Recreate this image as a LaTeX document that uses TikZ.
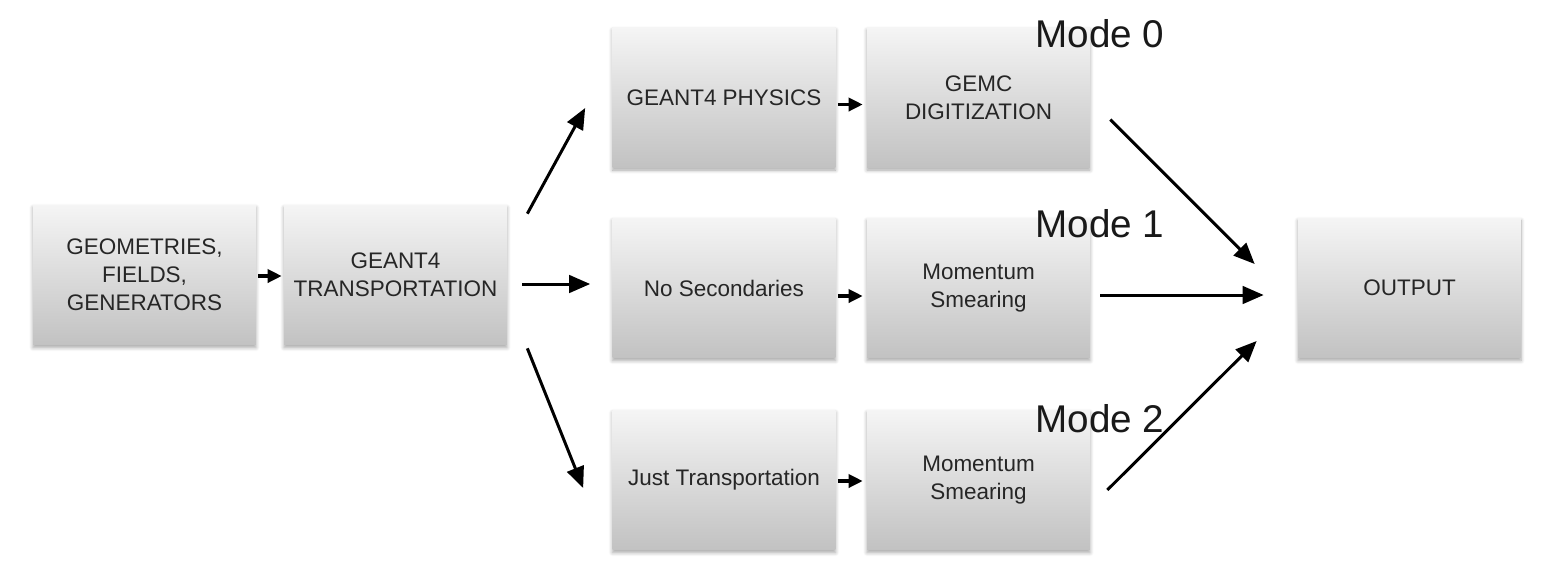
\documentclass[tikz,border=0pt]{standalone}
\usepackage{fontspec}
\setmainfont{Liberation Sans}
\usepackage{tikz}
\usetikzlibrary{calc,arrows.meta,shadows.blur}

\tikzset{
    stage/.style={rectangle, inner sep=0pt, minimum width=4.46cm, minimum height=2.8cm,
        align=center, top color=black!4, bottom color=black!24, draw=none,
        blur shadow={shadow xshift=0pt, shadow yshift=-1.5pt, shadow blur steps=6, shadow opacity=35},
        text=black!85, font=\fontsize{12.8}{16}\selectfont},
    mode/.style={inner sep=0pt, text=black!90, font=\fontsize{22}{26}\selectfont},
    flow/.style={line width=1.7pt, -{Triangle[length=12pt,width=10pt]}},
    hop/.style={line width=1.8pt, -{Triangle[length=8pt,width=7.5pt]}}
}

\begin{document}
\begin{tikzpicture}[x=0.02cm, y=-0.02cm]

    \useasboundingbox (0,0) rectangle (1549,576);

    % Input and transport stages
    \node[stage] (geom) at (144.5,275) {GEOMETRIES,\\FIELDS,\\GENERATORS};
    \node[stage] (transp) at (395.5,275) {GEANT4\\TRANSPORTATION};

    % Mode 0 row
    \node[stage] (physics) at (724,97.5) {GEANT4 PHYSICS};
    \node[stage] (digi) at (978.5,97.5) {GEMC\\DIGITIZATION};

    % Mode 1 row
    \node[stage] (nosec) at (724,288) {No Secondaries};
    \node[stage] (smearA) at (978.5,288) {Momentum\\Smearing};

    % Mode 2 row
    \node[stage] (justtr) at (724,480) {Just Transportation};
    \node[stage] (smearB) at (978.5,480) {Momentum\\Smearing};

    % Output
    \node[stage] (output) at (1409.5,288) {OUTPUT};

    % Mode labels
    \node[mode, anchor=base west] (mode0) at (1035,47) {Mode 0};
    \node[mode, anchor=base west] (mode1) at (1035,237) {Mode 1};
    \node[mode, anchor=base west] (mode2) at (1035,432) {Mode 2};

    % Short arrows between neighbouring stages
    \draw[hop] ($(geom.east)+(2,1)$) -- ($(transp.west)+(-2,1)$);
    \draw[hop] ($(physics.east)+(2,7)$) -- ($(digi.west)+(-4,7)$);
    \draw[hop] ($(nosec.east)+(2,8)$) -- ($(smearA.west)+(-4,8)$);
    \draw[hop] ($(justtr.east)+(2,1)$) -- ($(smearB.west)+(-4,1)$);

    % Branches out of the transportation stage
    \draw[flow] ($(transp.north east)+(20,9)$) -- ($(physics.west)+(-27,10.5)$);   % to mode 0
    \draw[flow] ($(transp.east)+(15,9)$) -- ($(nosec.west)+(-22,-4)$);            % to mode 1
    \draw[flow] ($(transp.south east)+(20,3)$) -- ($(justtr.west)+(-29,8)$);       % to mode 2

    % Into the output
    \draw[flow] ($(digi.east)+(20,22)$) -- ($(output.west)+(-43,-24)$);
    \draw[flow] ($(smearA.east)+(10,7)$) -- ($(output.west)+(-34,7)$);
    \draw[flow] ($(smearB.east)+(17,10)$) -- ($(output.west)+(-41,53)$);

\end{tikzpicture}
\end{document}
